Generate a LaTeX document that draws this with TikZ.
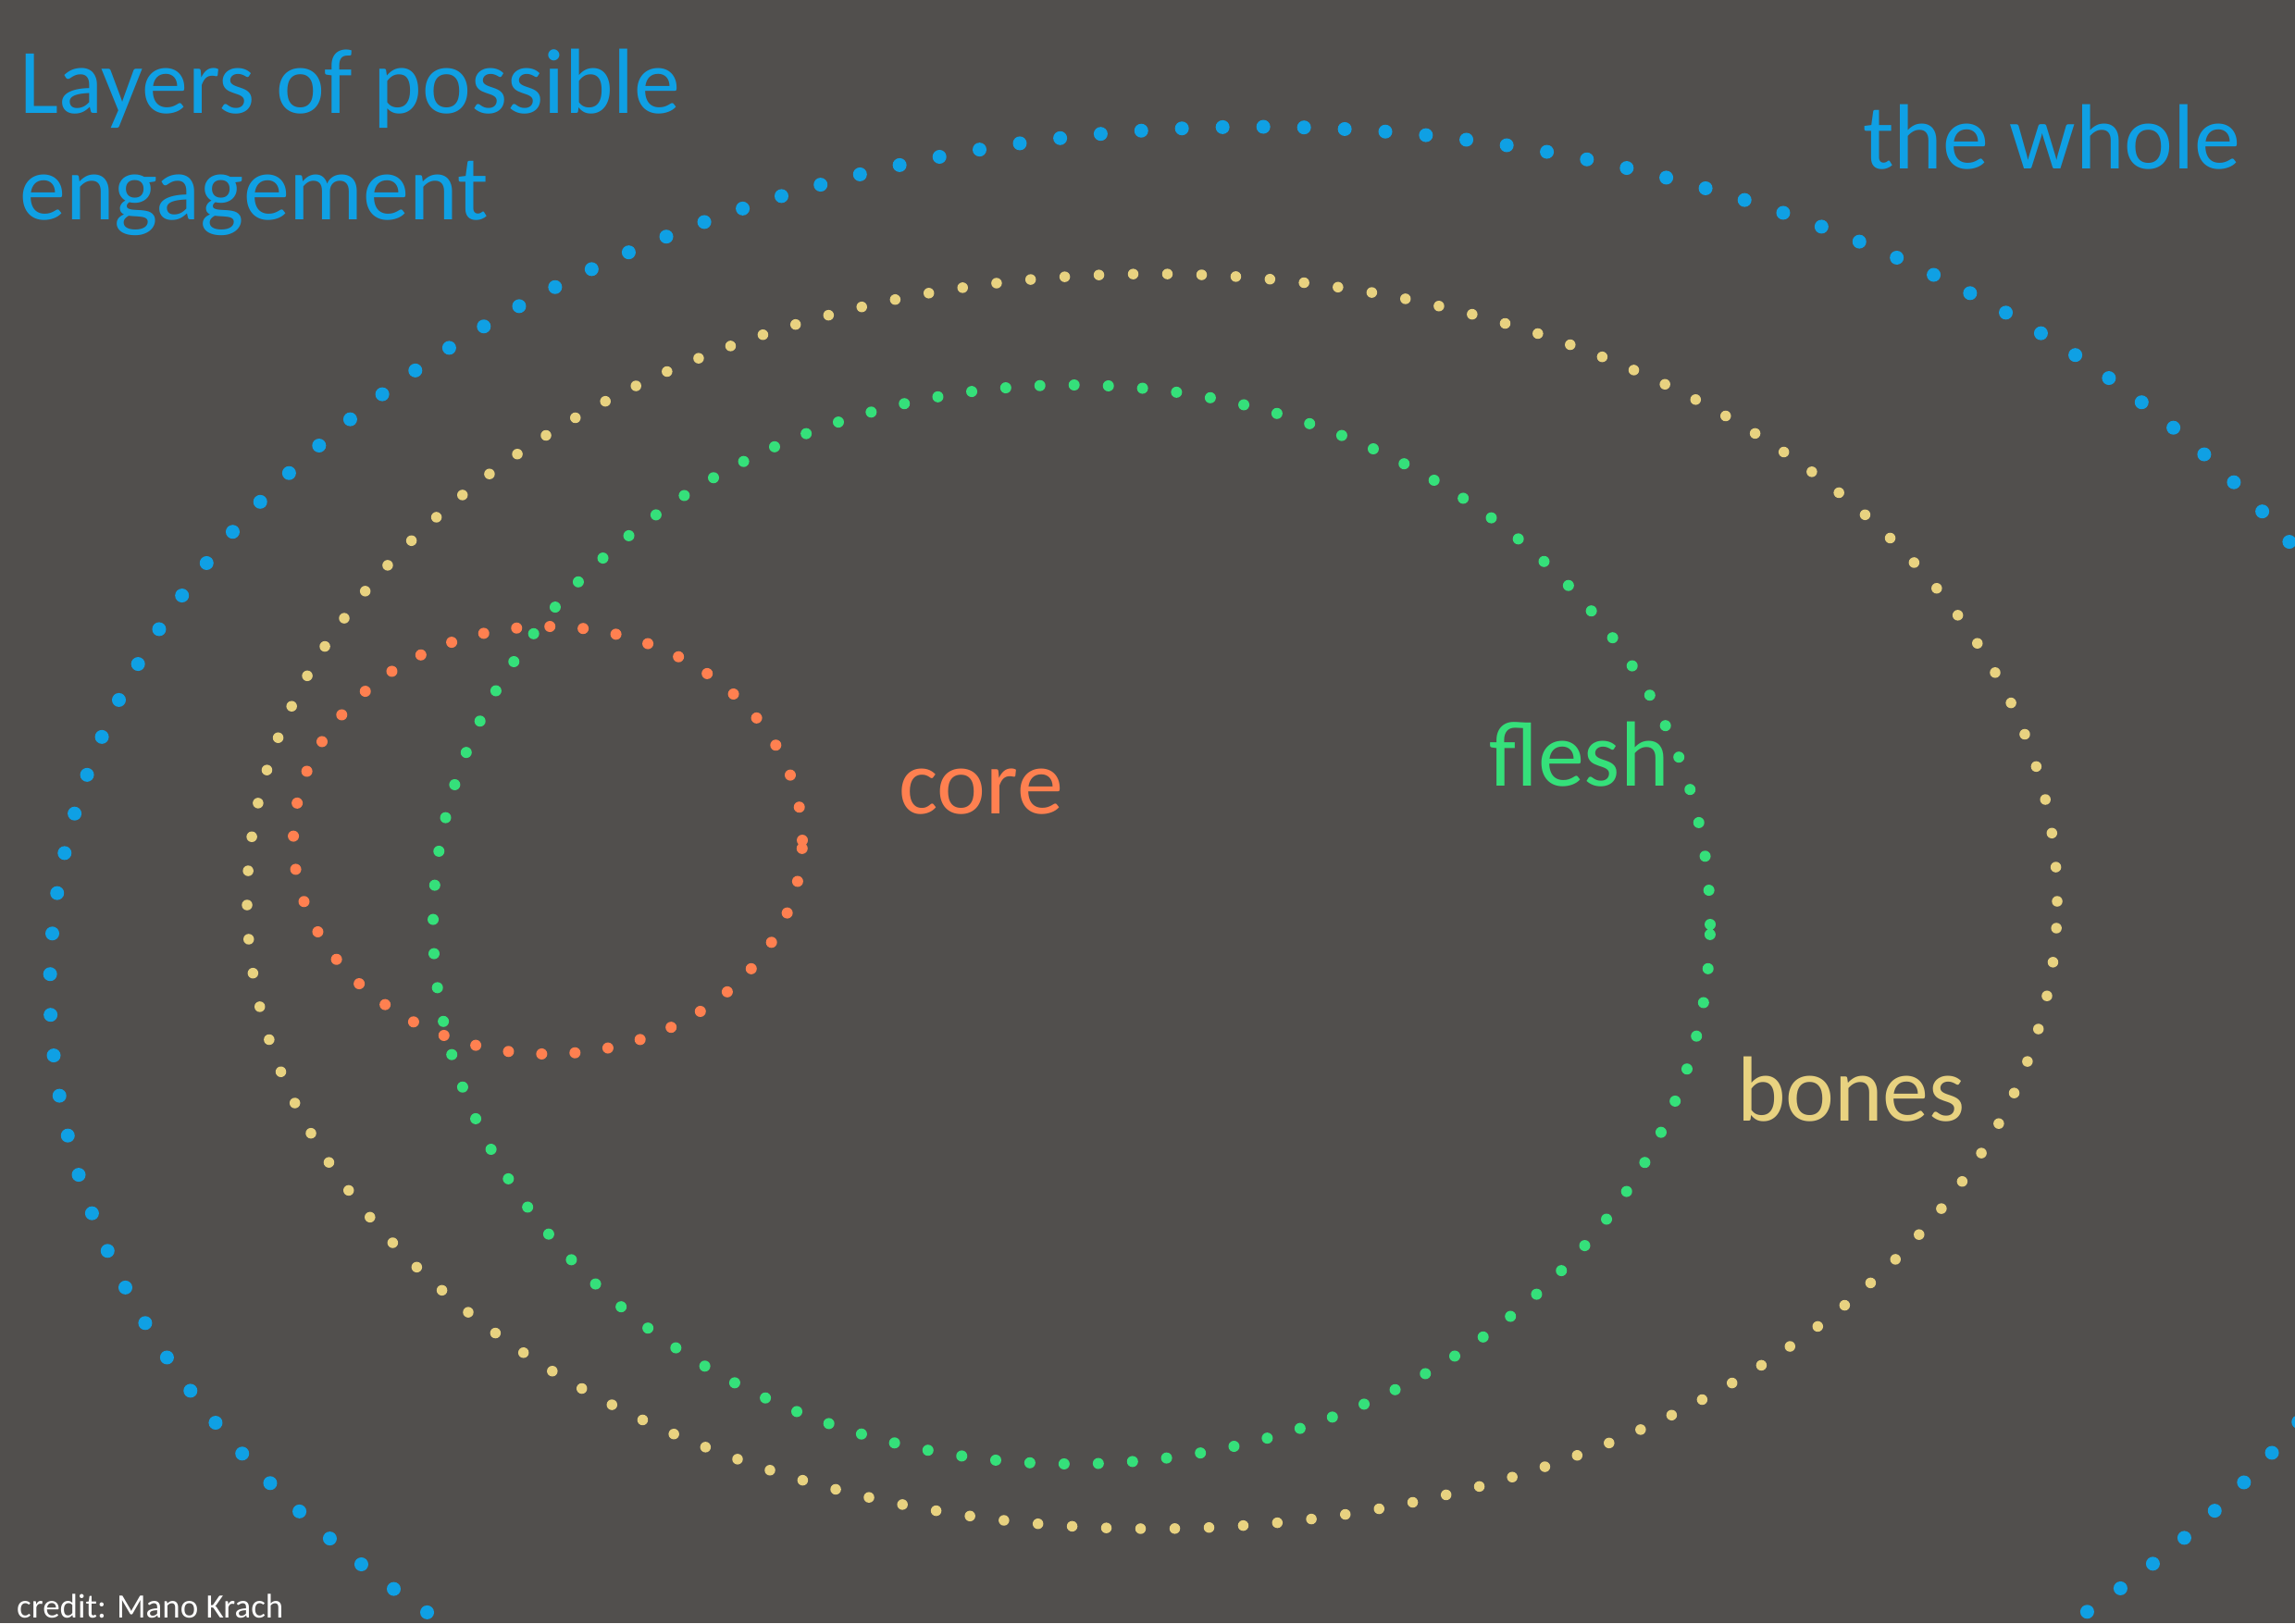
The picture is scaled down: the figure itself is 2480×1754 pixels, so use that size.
\documentclass[tikz,border=0pt]{standalone}
\usepackage{fontspec}
\setmainfont{Carlito}
\definecolor{bgcol}{HTML}{514F4D}
\definecolor{cblue}{HTML}{0FA0E4}
\definecolor{cyellow}{HTML}{E8D280}
\definecolor{cgreen}{HTML}{35E07A}
\definecolor{corange}{HTML}{FF8050}
\begin{document}
\begin{tikzpicture}[x=1pt,y=-1pt,
  dotring/.style={line cap=round, dash pattern=on 0pt off #1},
  big/.style={inner sep=0pt, anchor=base west, font=\fontsize{100}{120}\selectfont},
  small/.style={inner sep=0pt, anchor=base west, font=\fontsize{37}{44}\selectfont, text=white}]
\fill[bgcol] (0,0) rectangle (2480,1754);
\useasboundingbox (0,0) rectangle (2480,1754);
\begin{scope}
\clip (0,0) rectangle (2480,1754);
\draw[cblue, line width=15pt, dotring=44pt] (1358,1067) ellipse [x radius=1304pt, y radius=930pt];
\draw[cyellow, line width=11.5pt, dotring=37pt] (1245,974) ellipse [x radius=978pt, y radius=678pt];
\draw[cgreen, line width=12pt, dotring=37pt] (1158,999) ellipse [x radius=690pt, y radius=583pt];
\draw[corange, line width=12pt, dotring=36pt] (592,908) ellipse [x radius=275pt, y radius=231pt];
\end{scope}
\node[big, text=cblue] (title1) at (21,122) {Layers of possible};
\node[big, text=cblue] (title2) at (21,237) {engagement};
\node[big, text=cblue] (whole) at (2013,182) {the whole};
\node[big, text=corange] (core) at (971,879) {core};
\node[big, text=cgreen] (flesh) at (1609,849) {flesh};
\node[big, text=cyellow] (bones) at (1877,1211) {bones};
\node[small] (credit) at (18,1748) {credit: Mano Krach};
\end{tikzpicture}
\end{document}
